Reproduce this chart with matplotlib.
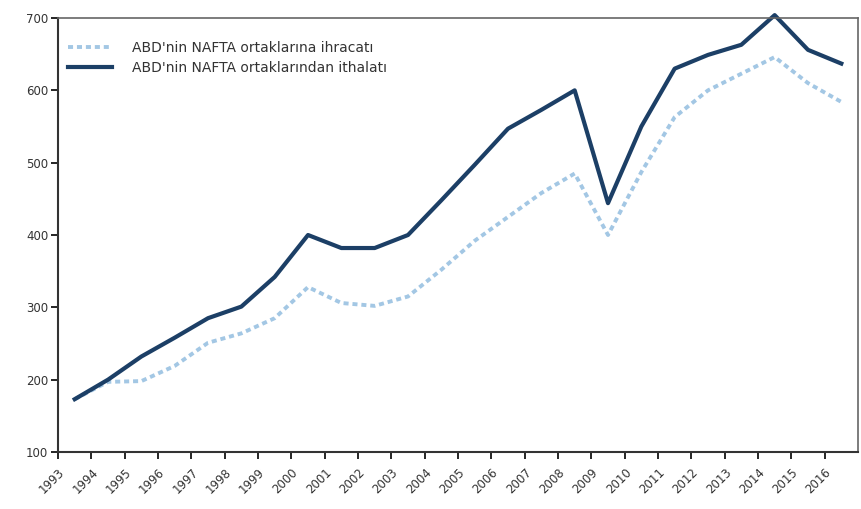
import matplotlib.pyplot as plt
import numpy as np

# Years and series (billion USD)
years = [str(y) for y in range(1993, 2017)]
exports = [173, 197, 198, 219, 251, 264, 285, 328, 306, 302, 315, 352,
           392, 425, 458, 485, 400, 487, 563, 600, 623, 646, 610, 584]
imports = [173, 200, 232, 258, 285, 301, 342, 400, 382, 382, 400, 448,
           497, 547, 573, 600, 444, 550, 630, 649, 663, 704, 656, 637]

export_label = "ABD'nin NAFTA ortaklarına ihracatı"
import_label = "ABD'nin NAFTA ortaklarından ithalatı"

fig = plt.figure(figsize=(8.61, 5.09), dpi=100)
ax = fig.add_axes([0.0674, 0.112, 0.9291, 0.8526])

x = np.arange(len(years)) + 0.5
ax.plot(x, exports, color='#a3c7e4', linewidth=2.8, linestyle=(0, (1.3, 1.0)),
        label=export_label, clip_on=False)
ax.plot(x, imports, color='#1c3f66', linewidth=3.0, label=import_label,
        clip_on=False, solid_joinstyle='round')

ax.set_xlim(0, len(years))
ax.set_ylim(100, 700)
ax.set_yticks(range(100, 701, 100))
ax.set_xticks(np.arange(len(years)))
ax.set_xticklabels(years, rotation=45, ha='right', rotation_mode='anchor',
                   fontsize=8.5, color='#333333')
ax.tick_params(axis='x', length=5, width=1.2, direction='out', pad=5)
ax.tick_params(axis='y', length=5, width=1.2, direction='out', labelsize=8.5,
               labelcolor='#333333', pad=2)

for side in ['left', 'bottom']:
    ax.spines[side].set_linewidth(1.5)
    ax.spines[side].set_color('#333333')
for side in ['top', 'right']:
    ax.spines[side].set_linewidth(1.2)
    ax.spines[side].set_color('#666666')

leg = ax.legend(loc='upper left', frameon=False, fontsize=10,
                handlelength=3.2, handletextpad=1.4, borderaxespad=0.3,
                labelspacing=0.45, bbox_to_anchor=(0.0, 0.97))
for t in leg.get_texts():
    t.set_color('#333333')

plt.savefig('out.png', dpi=100)
